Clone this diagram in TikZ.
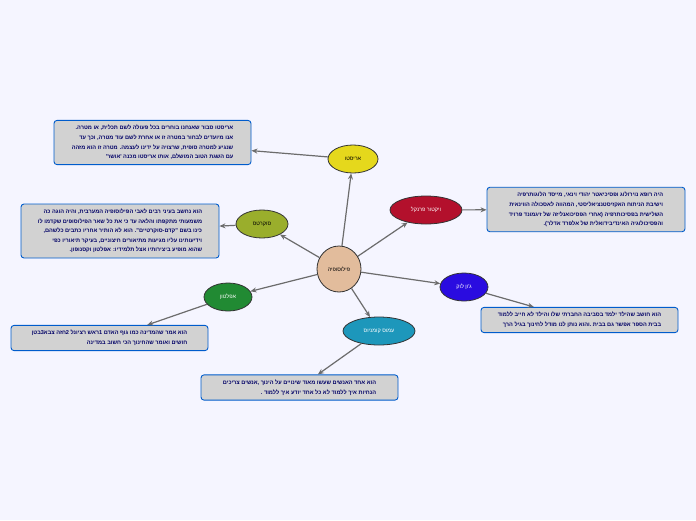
\documentclass[tikz,border=0pt]{standalone}
\usepackage{fontspec}
\setmainfont{Liberation Sans}
\newfontfamily\hebfont[Script=Hebrew]{Liberation Sans}
\TeXXeTstate=1
\usetikzlibrary{shapes.geometric,arrows.meta}
\definecolor{peach}{HTML}{E2BC9C}
\definecolor{olivec}{HTML}{9AAE2C}
\definecolor{platog}{HTML}{218A33}
\definecolor{tealc}{HTML}{1D97BB}
\definecolor{lockeb}{HTML}{2A0CE0}
\definecolor{frankr}{HTML}{B3102C}
\definecolor{aryel}{HTML}{E5D81C}
\newcommand{\hb}[1]{{\hebfont\beginR #1\endR}}
\begin{document}
\begin{tikzpicture}[x=1pt,y=-1pt,
  bub/.style={ellipse,draw=black!80,line width=0.8pt,minimum width=#1,minimum height=28pt,inner sep=0pt,font=\fontsize{5.5}{6}\selectfont},
  box/.style={rectangle,rounded corners=3pt,draw=blue!55!cyan!80!black,line width=0.9pt,fill=gray!35,text=blue!40!black,font=\fontsize{5.6}{9.6}\selectfont\bfseries,align=right,inner sep=5pt,minimum width=#1},
  con/.style={draw=gray!85!black,line width=1.2pt,-{Stealth[length=6pt,width=5pt]}}]
\fill[blue!4] (0,0) rectangle (696,520);
\useasboundingbox (0,0) rectangle (696,520);
\node[bub=44pt,minimum height=46pt,fill=peach] (c) at (339,269) {\hb{פילוסופיה}};
\node[bub=50pt,fill=aryel] (ar) at (353,159) {\hb{אריסטו}};
\node[bub=52pt,fill=olivec] (so) at (262,224) {\hb{סוקרטס}};
\node[bub=48pt,fill=platog,text=white] (pl) at (228,297) {\hb{אפלטון}};
\node[bub=72pt,fill=tealc,text=white] (ko) at (379,331) {\hb{עמוס קומניוס}};
\node[bub=48pt,fill=lockeb,text=white] (lo) at (464,287) {\hb{ג'ון לוק}};
\node[bub=72pt,fill=frankr,text=white] (fr) at (426,210) {\hb{ויקטור פרנקל}};
\node[box=197pt] (arb) at (152.5,142.5) {\hb{אריסטו סבור שאנחנו בוחרים בכל פעולה לשם תכלית, או מטרה.}\\\hb{אנו מיועדים לבחור במטרה זו או אחרת לשם עוד מטרה, וכך עד}\\\hb{שנגיע למטרה סופית, שרצויה על ידינו לעצמה. מטרה זו הוא מזהה}\\\hb{עם השגת הטוב המושלם, אותו אריסטו מכנה 'אושר'}};
\node[box=198pt] (sob) at (120,231) {\hb{הוא נחשב בעיני רבים לאבי הפילוסופיה המערבית, והיה הוגה כה}\\\hb{משמעותי מתקפתו והלאה עד כי את כל שאר הפילוסופים שקדמו לו}\\\hb{כינו בשם "קדם-סוקרטיים". הוא לא הותיר אחריו כתבים כלשהם,}\\\hb{וידיעותינו עליו מגיעות מתיאורים חיצוניים, בעיקר תיאוריו כפי}\\\hb{שהוא מופיע ביצירותיו אצל תלמידיו: אפלטון וקסנופון.}};
\node[box=198pt] (frb) at (586,209.5) {\hb{היה רופא נוירולוג ופסיכיאטר יהודי וינאי, מייסד הלוגותרפיה}\\\hb{וישיבת הניתוח האקזיסטנציאליסטי, המהווה לאסכולה הווינאית}\\\hb{השלישית בפסיכותרפיה (אחרי הפסיכואנליזה של זיגמונד פרויד}\\\hb{והפסיכולוגיה האינדיבידואלית של אלפרד אדלר).}};
\node[box=197pt] (plb) at (109.5,338) {\hb{הוא אמר שהמדינה כמו גוף האדם 1ראש רציונל 2חזה צבא3בטן}\\\hb{חושים ואומר שהחינוך הכי חשוב במדינה}};
\node[box=197pt] (lob) at (579.5,320) {\hb{הוא חושב שהילד ילמד בסביבה החברתי שלו והילד לא חייב ללמוד}\\\hb{בבית הספר אפשר גם בבית .והוא נותן לנו מודל לחינוך בגיל הרך}};
\node[box=197pt] (kob) at (299.5,387.5) {\hb{הוא אחד האנשים שעשו מאוד שינויים על הינוך ,אנשים צריכים}\\\hb{הנחיות איך ללמוד לא כל אחד יודע איך ללמוד .}};
\draw[con] (c) -- (ar);
\draw[con] (c) -- (so);
\draw[con] (c) -- (pl);
\draw[con] (c) -- (ko);
\draw[con] (c) -- (lo);
\draw[con] (c) -- (fr);
\draw[con] (ar) -- (arb);
\draw[con] (so) -- (sob);
\draw[con] (pl) -- (plb);
\draw[con] (ko) -- (kob);
\draw[con] (lo) -- (lob);
\draw[con] (fr) -- (frb);
\end{tikzpicture}
\end{document}
